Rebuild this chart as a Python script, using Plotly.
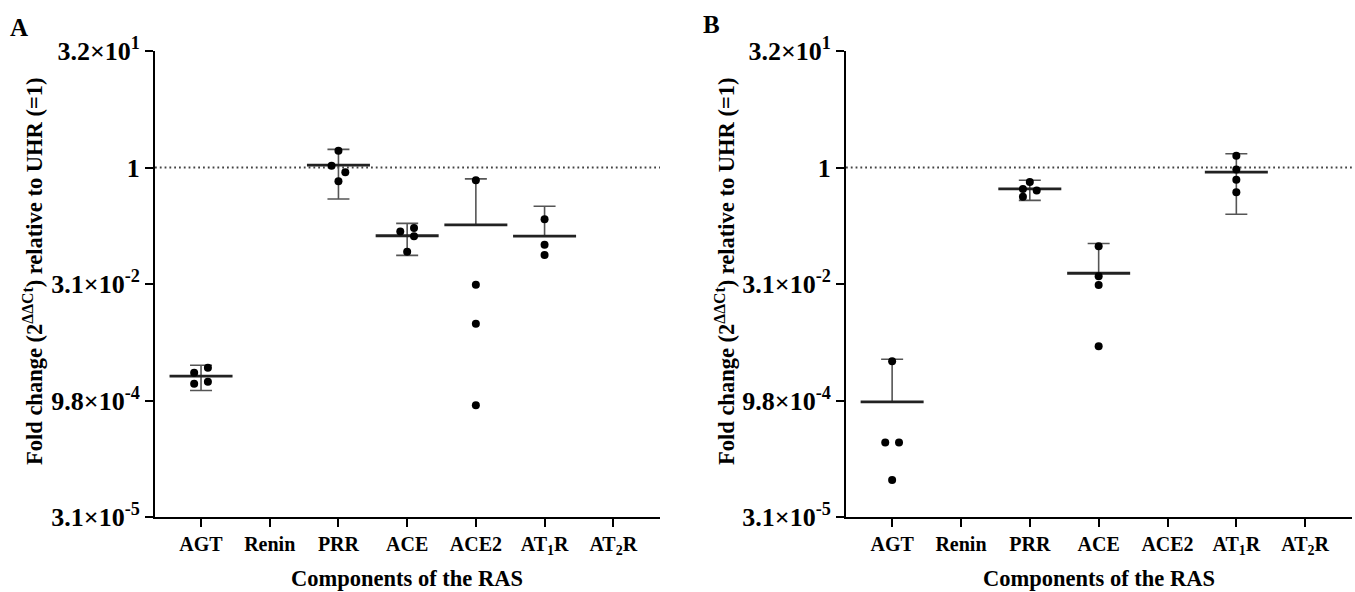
import plotly.graph_objects as go
import math

W, H = 1355, 592

categories = ["AGT", "Renin", "PRR", "ACE", "ACE2", "AT<sub>1</sub>R", "AT<sub>2</sub>R"]
y_tickvals = [2 ** 5, 1, 2 ** -5, 2 ** -10, 2 ** -15]
y_ticktext = ["3.2×10<sup>1</sup>", "1", "3.1×10<sup>-2</sup>", "9.8×10<sup>-4</sup>", "3.1×10<sup>-5</sup>"]

# Panel A – individual points (category index, fold change, column-scatter offset)
a_pt_cat = [0, 0, 0, 0, 2, 2, 2, 2, 3, 3, 3, 3, 4, 4, 4, 4, 5, 5, 5]
a_pt_val = [0.002228, 0.002595, 0.001609, 0.0017,
            1.647, 1.050, 0.871, 0.664,
            0.1487, 0.1649, 0.1294, 0.0814,
            0.684, 0.0306, 0.00955, 0.00085,
            0.2146, 0.1008, 0.0743]
a_pt_jit = [-0.1, 0.1, -0.1, 0.1, 0, -0.1, 0.1, 0, -0.1, 0.1, 0.1, 0, 0, 0, 0, 0, 0, 0, 0]
# Panel A – mean and error bar ends
a_mean_cat = [0, 2, 3, 4, 5]
a_mean = [0.002022, 1.072, 0.1312, 0.181, 0.130]
a_hi = [0.002781, 1.717, 0.1895, 0.712, 0.3164]
a_lo = [0.001316, 0.392, 0.0733, None, None]

# Panel B
b_pt_cat = [0, 0, 0, 0, 2, 2, 2, 2, 3, 3, 3, 3, 5, 5, 5, 5]
b_pt_val = [0.003128, 0.00028, 0.00028, 0.0000919,
            0.6507, 0.5285, 0.5035, 0.4204,
            0.0960, 0.0393, 0.0304, 0.00491,
            1.414, 0.942, 0.693, 0.4796]
b_pt_jit = [0, -0.1, 0.1, 0, 0, -0.1, 0.1, -0.1, 0, 0, 0, 0, 0, 0, 0, 0]
b_mean_cat = [0, 2, 3, 5]
b_mean = [0.000937, 0.5285, 0.0430, 0.871]
b_hi = [0.003329, 0.6830, 0.1044, 1.505]
b_lo = [None, 0.3763, None, 0.2484]

FONT = "Liberation Serif"
XR = [-0.67, 6.68]

fig = go.Figure()


def add_panel(xa, ya, pt_cat, pt_val, pt_jit, m_cat, m, hi, lo):
    fig.add_trace(go.Scatter(x=XR, y=[1, 1], mode="lines", xaxis=xa, yaxis=ya,
                             line=dict(color="#444", width=1.8, dash="1.8px,3px"),
                             hoverinfo="skip", showlegend=False))
    up = [h - v for h, v in zip(hi, m)]
    dn = [(v - l) if l is not None else 0 for l, v in zip(lo, m)]
    fig.add_trace(go.Scatter(x=m_cat, y=m, mode="markers", xaxis=xa, yaxis=ya,
                             marker=dict(size=1, color="rgba(0,0,0,0)"),
                             error_y=dict(type="data", symmetric=False, array=up, arrayminus=dn,
                                          color="#555", thickness=1.6, width=11),
                             showlegend=False))
    fig.add_trace(go.Scatter(x=m_cat, y=m, mode="markers", xaxis=xa, yaxis=ya,
                             marker=dict(symbol="line-ew", size=45,
                                         line=dict(color="#222", width=2.8)),
                             showlegend=False))
    fig.add_trace(go.Scatter(x=[c + j for c, j in zip(pt_cat, pt_jit)], y=pt_val,
                             mode="markers", xaxis=xa, yaxis=ya,
                             marker=dict(size=8, color="black"), showlegend=False))


add_panel("x", "y", a_pt_cat, a_pt_val, a_pt_jit, a_mean_cat, a_mean, a_hi, a_lo)
add_panel("x2", "y2", b_pt_cat, b_pt_val, b_pt_jit, b_mean_cat, b_mean, b_hi, b_lo)

y_top, y_bot = 51, 517
ydom = [1 - y_bot / H, 1 - y_top / H]
xtickfont = dict(family=FONT, size=20, color="black", weight="bold")
ytickfont = dict(family=FONT, size=26, color="black", weight="bold")

xcommon = dict(range=XR, tickvals=list(range(len(categories))), ticktext=categories,
               showline=True, linecolor="black", linewidth=2, ticks="outside",
               ticklen=8, tickwidth=2, tickcolor="black", showgrid=False,
               zeroline=False, tickfont=xtickfont, automargin=False)
ycommon = dict(type="log", range=[math.log10(2 ** -15), math.log10(2 ** 5)],
               tickvals=y_tickvals, ticktext=y_ticktext, showline=True,
               linecolor="black", linewidth=2, ticks="outside", ticklen=8,
               tickwidth=2, tickcolor="black", showgrid=False, zeroline=False,
               tickfont=ytickfont, domain=ydom, automargin=False, ticklabelstandoff=0)

fig.update_layout(
    width=W, height=H, margin=dict(l=0, r=0, t=0, b=0, autoexpand=False),
    paper_bgcolor="white", plot_bgcolor="white",
    xaxis=dict(xcommon, domain=[155 / W, 660 / W], anchor="y"),
    yaxis=dict(ycommon, anchor="x"),
    xaxis2=dict(xcommon, domain=[846 / W, 1352 / W], anchor="y2"),
    yaxis2=dict(ycommon, anchor="x2"),
)

titlefont = dict(family=FONT, size=22.5, color="black", weight="bold")
ytitle = "Fold change (2<sup>ΔΔCt</sup>) relative to UHR (=1)"
annos = [
    dict(text="Components of the RAS", x=407.5 / W, y=1 - 578 / H),
    dict(text="Components of the RAS", x=1099 / W, y=1 - 578 / H),
    dict(text=ytitle, x=33 / W, y=1 - 272 / H, textangle=-90),
    dict(text=ytitle, x=725 / W, y=1 - 272 / H, textangle=-90),
    dict(text="A", x=19 / W, y=1 - 27 / H, font=dict(family=FONT, size=25, color="black", weight="bold")),
    dict(text="B", x=711 / W, y=1 - 25 / H, font=dict(family=FONT, size=25, color="black", weight="bold")),
]
for a in annos:
    a.setdefault("font", titlefont)
    fig.add_annotation(xref="paper", yref="paper", xanchor="center", yanchor="middle",
                       showarrow=False, **a)

fig.write_html("out.html", config={"displayModeBar": False},
               post_script="document.body.style.margin='0px';document.body.style.overflow='hidden';")
